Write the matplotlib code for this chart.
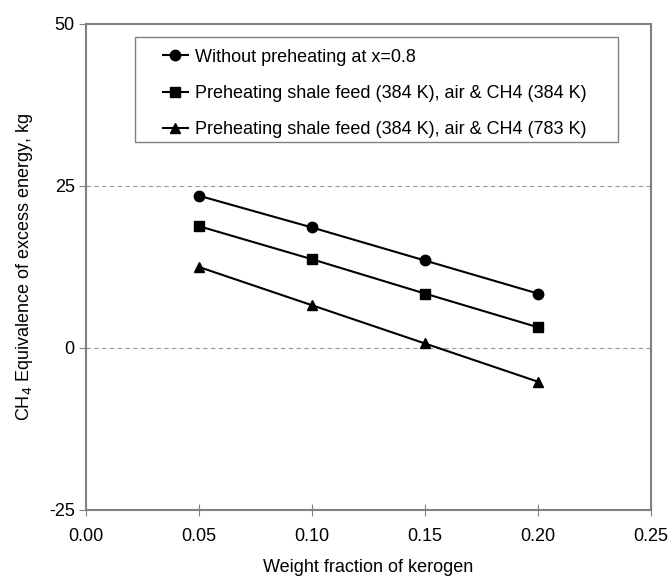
import matplotlib
matplotlib.use("Agg")
import matplotlib.pyplot as plt
from matplotlib.patches import Rectangle

plt.rcParams['font.family'] = ['Liberation Sans', 'DejaVu Sans']
plt.rcParams['axes.unicode_minus'] = False

kerogen = [0.05, 0.10, 0.15, 0.20]
no_preheat = [23.5, 18.6, 13.5, 8.4]
preheat_384 = [18.8, 13.7, 8.4, 3.2]
preheat_783 = [12.5, 6.6, 0.7, -5.2]
labels = [
    "Without preheating at x=0.8",
    "Preheating shale feed (384 K), air & CH4 (384 K)",
    "Preheating shale feed (384 K), air & CH4 (783 K)",
]
x_ticks = [0.00, 0.05, 0.10, 0.15, 0.20, 0.25]
y_ticks = [-25, 0, 25, 50]

fig = plt.figure(figsize=(6.71, 5.76), dpi=100)
ax = fig.add_axes([0.128, 0.1146, 0.842, 0.8438])

for ys, mk, lab in zip([no_preheat, preheat_384, preheat_783], ['o', 's', '^'], labels):
    ax.plot(kerogen, ys, color='black', lw=1.5, marker=mk, ms=7.5, label=lab)

# dashed gridlines only at inner ticks
for yv in y_ticks[1:-1]:
    ax.axhline(yv, color='#999999', lw=0.8, ls=(0, (4, 3)), zorder=0)

ax.set_xlim(0, 0.25)
ax.set_ylim(-25, 50)
ax.set_xticks(x_ticks)
ax.set_xticklabels([f"{v:.2f}" for v in x_ticks])
ax.set_yticks(y_ticks)
ax.tick_params(axis='x', direction='inout', length=8, color='#808080', labelsize=13, pad=9)
ax.tick_params(axis='y', direction='out', length=5, color='#808080', labelsize=13, pad=3)
for sp in ax.spines.values():
    sp.set_color('#808080')
    sp.set_linewidth(1.5)

ax.set_xlabel("Weight fraction of kerogen", fontsize=13, labelpad=10)
ax.set_ylabel("CH$_4$ Equivalence of excess energy, kg", fontsize=13, labelpad=10)

# legend box drawn separately (wider left padding than legend allows)
ax.add_patch(Rectangle((0.0867, 0.757), 0.855, 0.216, transform=ax.transAxes,
                       facecolor='white', edgecolor='#808080', lw=1.0, zorder=4))
leg = ax.legend(loc='upper left', bbox_to_anchor=(0.136, 0.949), borderaxespad=0,
                fontsize=13, handlelength=1.4, handletextpad=0.4, borderpad=0,
                labelspacing=1.07, frameon=False)
leg.set_zorder(5)

fig.savefig("out.png", dpi=100)
